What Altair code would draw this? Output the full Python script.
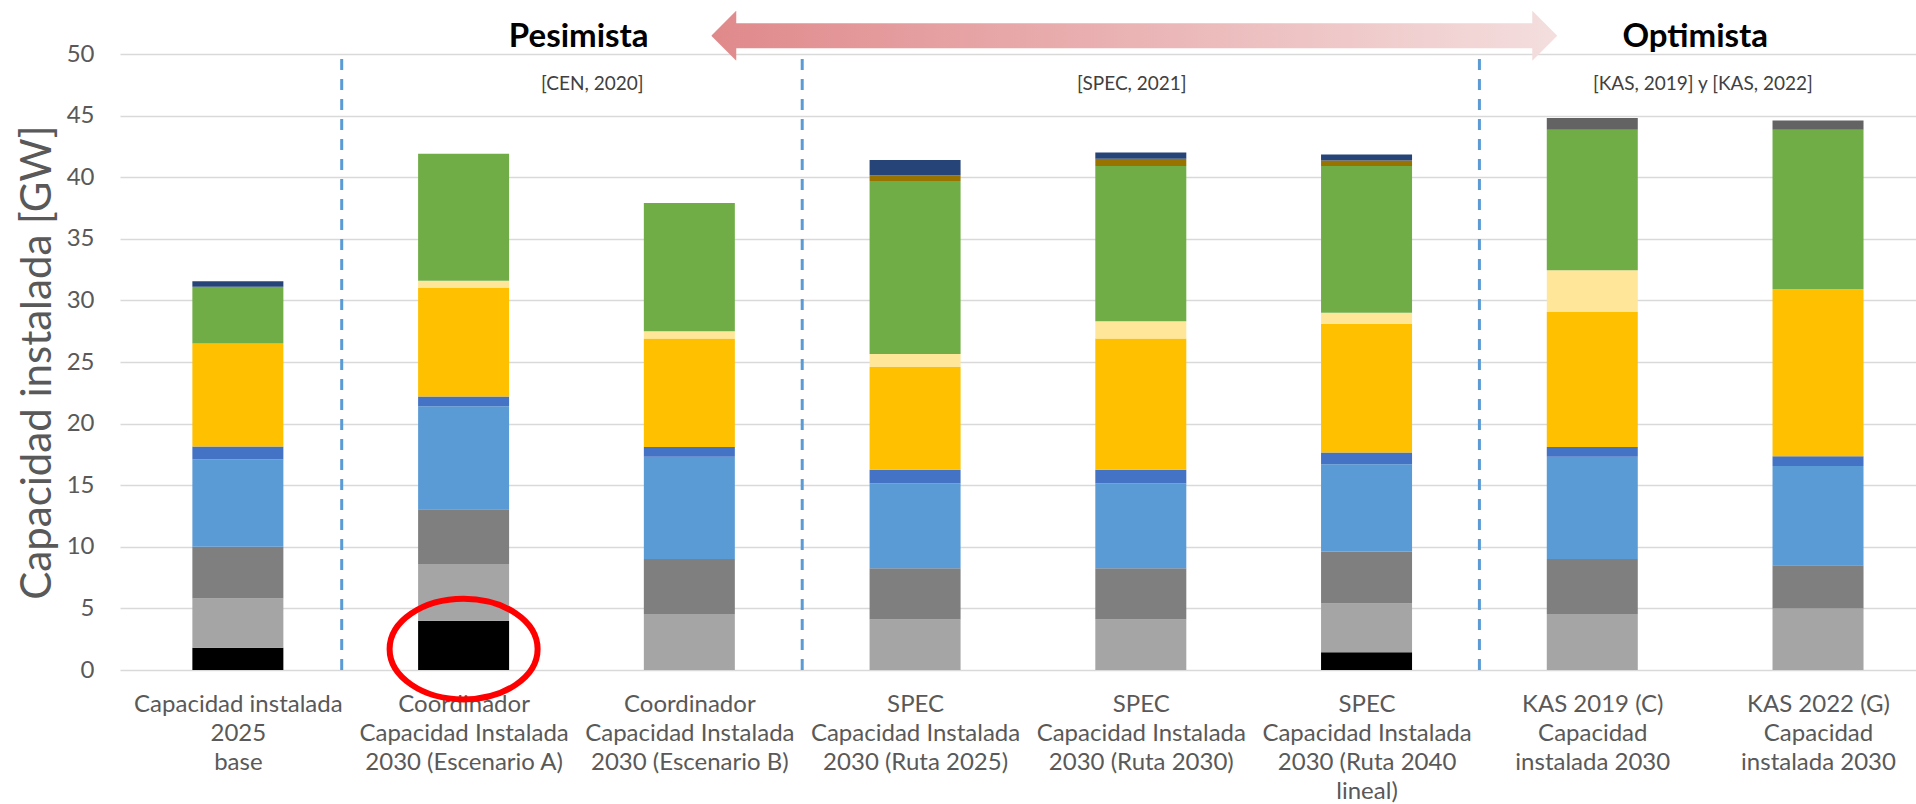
import json
import base64
import altair as alt
import pandas as pd

# ---------------- data ----------------
categories = [
    "Capacidad instalada|2025|base",
    "Coordinador|Capacidad Instalada|2030 (Escenario A)",
    "Coordinador|Capacidad Instalada|2030 (Escenario B)",
    "SPEC|Capacidad Instalada|2030 (Ruta 2025)",
    "SPEC|Capacidad Instalada|2030 (Ruta 2030)",
    "SPEC|Capacidad Instalada|2030 (Ruta 2040|lineal)",
    "KAS 2019 (C)|Capacidad|instalada 2030",
    "KAS 2022 (G)|Capacidad|instalada 2030",
]

series = ["Carbón", "Gas natural", "Diésel y otros", "Hidro embalse", "Hidro pasada",
          "Solar FV", "Solar CSP", "Eólica", "Geotermia", "Almacenamiento", "Otros"]
colors = ["#000000", "#a5a5a5", "#7f7f7f", "#5b9bd5", "#4472c4",
          "#ffc000", "#ffe699", "#70ad47", "#997300", "#264478", "#636363"]

carbon      = [1.80, 4.00, 0.00, 0.00, 0.00, 1.45, 0.00, 0.00]
gas         = [4.00, 4.60, 4.55, 4.10, 4.10, 3.95, 4.55, 5.00]
diesel      = [4.20, 4.45, 4.45, 4.15, 4.15, 4.20, 4.45, 3.50]
hidro_emb   = [7.10, 8.35, 8.30, 6.90, 6.90, 7.10, 8.30, 8.05]
hidro_pas   = [1.05, 0.80, 0.80, 1.10, 1.10, 0.95, 0.80, 0.80]
solar_fv    = [8.35, 8.80, 8.80, 8.35, 10.65, 10.45, 10.95, 13.55]
solar_csp   = [0.00, 0.60, 0.60, 1.05, 1.40, 0.90, 3.40, 0.00]
eolica      = [4.60, 10.30, 10.40, 14.05, 12.60, 11.90, 11.40, 12.95]
geotermia   = [0.00, 0.00, 0.00, 0.45, 0.60, 0.45, 0.00, 0.00]
almacen     = [0.45, 0.00, 0.00, 1.25, 0.50, 0.50, 0.00, 0.00]
otros       = [0.00, 0.00, 0.00, 0.00, 0.00, 0.00, 0.95, 0.75]

all_values = [carbon, gas, diesel, hidro_emb, hidro_pas, solar_fv, solar_csp,
              eolica, geotermia, almacen, otros]

# group separators (category-index units) and annotations
separators = [0.46, 2.5, 5.5]
header_text = ["Pesimista", "Optimista"]
header_x = [1.51, 6.456]
header_y = [50.57, 50.57]
source_text = ["[CEN, 2020]", "[SPEC, 2021]", "[KAS, 2019] y [KAS, 2022]"]
source_x = [1.57, 3.96, 6.49]
source_y = [47.55, 47.55, 47.55]
arrow_center_x = [3.971]
arrow_center_y = [51.49]
highlight_x = [1.0]
highlight_y = [1.7]

# ---------------- tables ----------------
rows = []
for si, (name, vals) in enumerate(zip(series, all_values)):
    for ci, v in enumerate(vals):
        if v > 0:
            rows.append({"idx": ci, "series": name, "ord": si, "value": v})
bars_df = pd.DataFrame(rows)

W, H = 1796, 616
x_scale = alt.Scale(domain=[-0.5, -0.5 + W / 227.0], nice=False, zero=False)
y_scale = alt.Scale(domain=[0, 50], nice=False)

label_expr = "split(" + json.dumps(categories, ensure_ascii=False) + "[datum.value], '|')"

x_axis = alt.Axis(values=list(range(len(categories))), labelExpr=label_expr, title=None,
                  domain=False, ticks=False, grid=False, labelFont="Lato",
                  labelFontSize=24, labelColor="#595959", labelLineHeight=29,
                  labelPadding=22, labelBaseline="top", labelOverlap=False,
                  labelFlush=False, labelBound=False, labelLimit=0)
y_axis = alt.Axis(values=list(range(0, 51, 5)), title="Capacidad instalada [GW]",
                  grid=True, gridColor="#d9d9d9", gridWidth=1.5, domain=False,
                  ticks=False, labelPadding=26, labelFont="Lato", labelFontSize=24,
                  labelColor="#595959", titleFont="Lato", titleFontSize=42,
                  titleFontWeight="normal", titleColor="#595959", titleX=-70,
                  titleY=H / 2, titleBaseline="alphabetic", titleAlign="center",
                  titleAngle=270)

bars = alt.Chart(bars_df).mark_bar(size=91).encode(
    color=alt.Color("series:N", scale=alt.Scale(domain=series, range=colors), legend=None),
    order=alt.Order("ord:Q", sort="ascending"),
)

sep_df = pd.DataFrame({"idx": separators, "value": [0] * len(separators),
                       "value2": [50] * len(separators)})
seps = alt.Chart(sep_df).mark_rule(color="#5b9bd5", strokeWidth=3, strokeDash=[11, 9]).encode(
    y2="value2:Q",
)

# double-headed gradient arrow (decoration) as a self-contained SVG image
arrow_svg = (
    "<svg xmlns='http://www.w3.org/2000/svg' width='846' height='50' viewBox='0 0 846 50'>"
    "<defs><linearGradient id='g' x1='0' x2='1' y1='0' y2='0'>"
    "<stop offset='0' stop-color='#e0898b'/><stop offset='1' stop-color='#f4dede'/>"
    "</linearGradient></defs>"
    "<polygon points='0,25 25,0 25,12.5 821,12.5 821,0 846,25 821,50 821,37.5 25,37.5 25,50' "
    "fill='url(#g)'/></svg>"
)
arrow_url = "data:image/svg+xml;base64," + base64.b64encode(arrow_svg.encode()).decode()
arrow_df = pd.DataFrame({"idx": arrow_center_x, "value": arrow_center_y, "img": [arrow_url]})
arrow = alt.Chart(arrow_df).mark_image(width=846, height=50, aspect=False,
                                       align="center", baseline="middle").encode(
    url="img:N",
)

head_df = pd.DataFrame({"idx": header_x, "value": header_y, "text": header_text})
heads = alt.Chart(head_df).mark_text(font="Lato", fontSize=33, fontWeight="bold",
                                     color="#000000", baseline="alphabetic",
                                     align="center").encode(
    text="text:N",
)

src_df = pd.DataFrame({"idx": source_x, "value": source_y, "text": source_text})
srcs = alt.Chart(src_df).mark_text(font="Lato", fontSize=19, color="#404040",
                                   baseline="middle", align="center").encode(
    text="text:N",
)

hl_df = pd.DataFrame({"idx": highlight_x, "value": highlight_y})
ellipse = alt.Chart(hl_df).mark_point(
    shape="M -1 0 A 1 0.68 0 1 0 1 0 A 1 0.68 0 1 0 -1 0",
    size=148 * 148, filled=False, stroke="#ff0000", strokeWidth=6, opacity=1,
).encode()

chart = alt.layer(bars, seps, arrow, heads, srcs, ellipse).encode(
    x=alt.X("idx:Q", scale=x_scale, axis=x_axis),
    y=alt.Y("value:Q", scale=y_scale, axis=y_axis),
).properties(
    width=W, height=H,
    autosize=alt.AutoSizeParams(type="none"),
    padding={"left": 120, "top": 54, "right": 0, "bottom": 134},
    background="white",
).configure_view(stroke=None)

chart.save("out.html", embed_options={"renderer": "svg", "actions": False})
